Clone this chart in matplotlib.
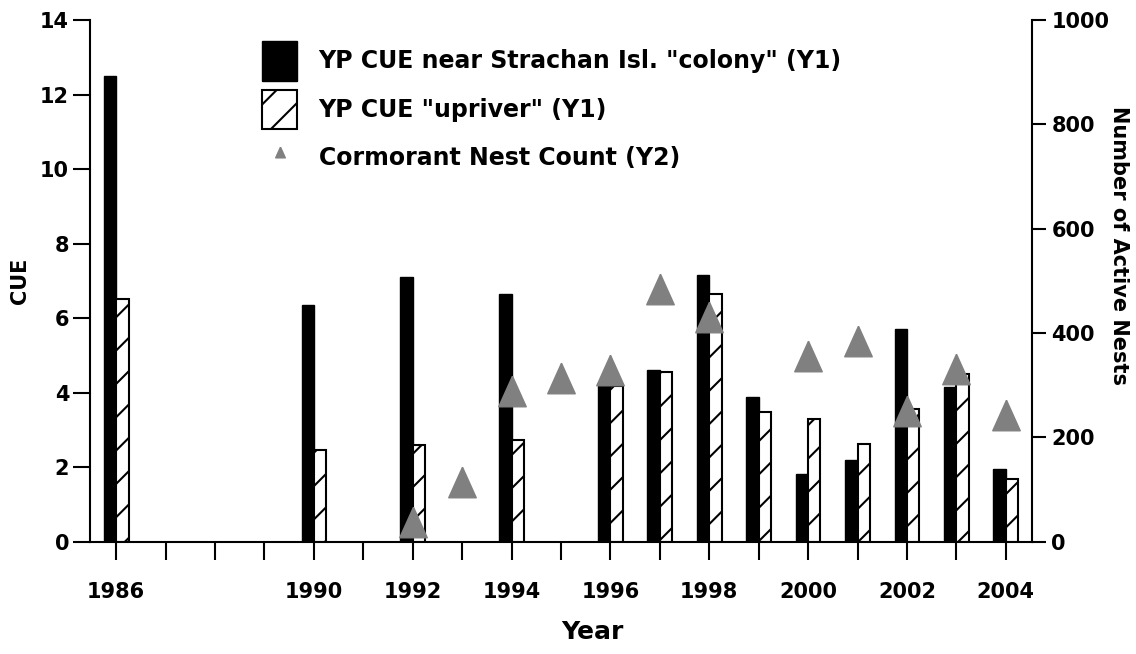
import matplotlib
matplotlib.use("Agg")
import matplotlib.pyplot as plt
import numpy as np

# data
years = list(range(1986, 2005))
colony_cue = [12.5, np.nan, np.nan, np.nan, 6.35, np.nan, 7.1, np.nan, 6.65, np.nan,
              4.2, 4.62, 7.15, 3.87, 1.83, 2.2, 5.7, 4.15, 1.95]
upriver_cue = [6.5, np.nan, np.nan, np.nan, 2.47, np.nan, 2.59, np.nan, 2.74, np.nan,
               4.18, 4.56, 6.66, 3.48, 3.28, 2.63, 3.55, 4.51, 1.67]
nest_count = [np.nan, np.nan, np.nan, np.nan, np.nan, np.nan, 37, 115, 289, 314,
              329, 485, 431, np.nan, 356, 384, 250, 331, 242]
tick_labels = ["1986", "", "", "", "1990", "", "1992", "", "1994", "", "1996", "",
               "1998", "", "2000", "", "2002", "", "2004"]

plt.rcParams['font.family'] = 'DejaVu Sans'
plt.rcParams['font.weight'] = 'bold'
plt.rcParams['hatch.linewidth'] = 1.5

fig = plt.figure(figsize=(11.36, 6.54), dpi=100)
ax = fig.add_axes([90/1136, 1-541.7/654, 942/1136, 521.7/654])

x = np.array(years)
w = 0.25
b1 = ax.bar(x - w/2, colony_cue, w, color='black', edgecolor='black', linewidth=1,
            label='YP CUE near Strachan Isl. "colony" (Y1)')
b2 = ax.bar(x + w/2, upriver_cue, w, color='white', edgecolor='black', linewidth=1.5,
            hatch='/', label='YP CUE "upriver" (Y1)')

ax.set_xlim(1985.47, 2004.53)
ax.set_ylim(0, 14)
ax.set_yticks(range(0, 15, 2))
ax.set_xticks(years)
ax.set_xticklabels(tick_labels)
for s in ['top', 'right']:
    ax.spines[s].set_visible(False)
for s in ['left', 'bottom']:
    ax.spines[s].set_linewidth(1.5)
ax.tick_params(axis='y', direction='out', length=12, width=1.5, labelsize=15, pad=3)
ax.tick_params(axis='x', direction='out', length=13, width=1.5, labelsize=15, pad=16)

# second axis for the nest counts (slightly narrow triangle)
tri = [(0, 1), (-0.9, -1), (0.9, -1), (0, 1)]
ax2 = ax.twinx()
l1, = ax2.plot(x, nest_count, marker=tri, color='#808080', markersize=22,
               linestyle='none', label='Cormorant Nest Count (Y2)')
ax2.set_ylim(0, 1000)
ax2.set_yticks(range(0, 1001, 200))
for s in ['top', 'left', 'bottom']:
    ax2.spines[s].set_visible(False)
ax2.spines['right'].set_linewidth(1.5)
ax2.tick_params(axis='y', direction='out', length=10, width=1.5, labelsize=15, pad=4)

# axis titles
fig.text(20/1136, 1-281/654, 'CUE', rotation=90, ha='center', va='center', fontsize=15)
fig.text(1119/1136, 1-246/654, 'Number of Active Nests', rotation=270, ha='center',
         va='center', fontsize=15)
fig.text(592/1136, 1-632/654, 'Year', ha='center', va='center', fontsize=18)

# legend
ax2.legend([b1, b2, l1], [b1.get_label(), b2.get_label(), l1.get_label()],
           loc='upper left', bbox_to_anchor=(262/1136, 1-41/654),
           bbox_transform=fig.transFigure, frameon=False, borderpad=0,
           borderaxespad=0, fontsize=17, handlelength=1.5, handleheight=2.2,
           labelspacing=0.38, handletextpad=0.9, markerscale=0.35)

plt.savefig('out.png', dpi=100)
